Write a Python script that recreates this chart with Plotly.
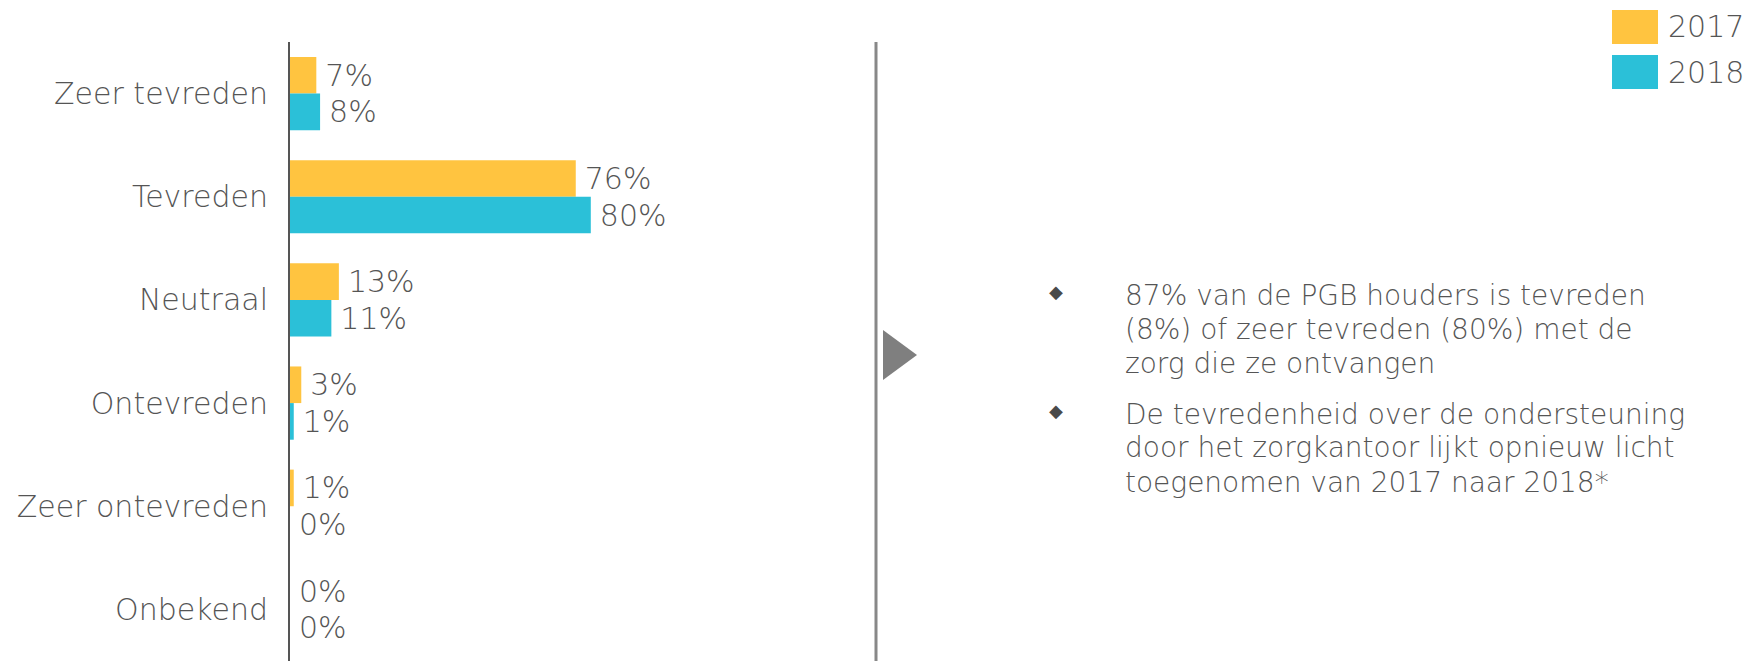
import plotly.graph_objects as go

# ---- data ----
categories = ["Zeer tevreden", "Tevreden", "Neutraal", "Ontevreden", "Zeer ontevreden", "Onbekend"]
years = ["2017", "2018"]
values_2017 = [7, 76, 13, 3, 1, 0]
values_2018 = [8, 80, 11, 1, 0, 0]
bullet_1 = ["87% van de PGB houders is tevreden",
            "(8%) of zeer tevreden (80%) met de",
            "zorg die ze ontvangen"]
bullet_2 = ["De tevredenheid over de ondersteuning",
            "door het zorgkantoor lijkt opnieuw licht",
            "toegenomen van 2017 naar 2018*"]

# ---- style ----
YELLOW = "#FFC440"
CYAN = "#2BC0D8"
TEXT = "#555555"
FONT = "'DejaVu Sans', sans-serif"
FW = 300
FS = 30
FS_NOTE = 28

W, H = 1747, 661
L, R, T, B = 290, 850, 42, 661          # plot area in pixels
PX_PER_PCT = 3.76


def px(x):
    return (x - L) / (R - L)


def py(y):
    return (B - y) / (B - T)


fig = go.Figure()
for name, vals, col in [(years[0], values_2017, YELLOW), (years[1], values_2018, CYAN)]:
    fig.add_trace(go.Bar(
        name=name, y=categories, x=vals, orientation="h",
        marker=dict(color=col, line=dict(width=0)),
        texttemplate="\u2009%{x}%", textposition="outside",
        textfont=dict(size=FS, color=TEXT, family=FONT, weight=FW),
        cliponaxis=False, constraintext="none", showlegend=False,
    ))

shapes = []
annotations = []

# divider line and arrow
shapes.append(dict(type="line", xref="paper", yref="paper",
                   x0=px(876), x1=px(876), y0=py(42), y1=py(661),
                   line=dict(color="#888888", width=3)))
shapes.append(dict(type="path", xref="paper", yref="paper",
                   path=f"M {px(883)} {py(330)} L {px(917)} {py(355)} L {px(883)} {py(380)} Z",
                   fillcolor="#7F7F7F", line=dict(width=0)))

# legend (manual)
for i, (name, col) in enumerate([(years[0], YELLOW), (years[1], CYAN)]):
    y0 = 10 + i * 45
    shapes.append(dict(type="rect", xref="paper", yref="paper",
                       x0=px(1612), x1=px(1658), y0=py(y0), y1=py(y0 + 34),
                       fillcolor=col, line=dict(width=0)))
    annotations.append(dict(xref="paper", yref="paper", x=px(1666), y=py(y0 + 17),
                            text=name, showarrow=False, xanchor="left", yanchor="middle",
                            font=dict(size=FS, color=TEXT, family=FONT, weight=FW)))

# bullet text
for lines, y_start in [(bullet_1, 295), (bullet_2, 414)]:
    annotations.append(dict(xref="paper", yref="paper", x=px(1056), y=py(y_start - 4),
                            text="\u25C6", showarrow=False, xanchor="center", yanchor="middle",
                            font=dict(size=18, color="#4A4A4A", family="DejaVu Sans")))
    for j, line in enumerate(lines):
        annotations.append(dict(xref="paper", yref="paper", x=px(1123), y=py(y_start + j * 34),
                                text=line, showarrow=False, xanchor="left", yanchor="middle",
                                font=dict(size=FS_NOTE, color=TEXT, family=FONT, weight=FW)))

fig.update_layout(
    width=W, height=H,
    margin=dict(l=L, r=W - R, t=T, b=H - B, pad=0),
    paper_bgcolor="white", plot_bgcolor="white",
    barmode="group", bargap=0.29, bargroupgap=0,
    font=dict(family=FONT, color=TEXT, size=FS),
    xaxis=dict(range=[0, (R - L) / PX_PER_PCT], visible=False, fixedrange=True),
    yaxis=dict(type="category", autorange="reversed", showline=True, linecolor="#555555",
               linewidth=2, showgrid=False, zeroline=False, ticks="",
               ticklabelstandoff=14, fixedrange=True,
               tickfont=dict(size=FS, color=TEXT, family=FONT, weight=FW)),
    shapes=shapes, annotations=annotations,
)

fig.write_html("out.html", config={"displayModeBar": False},
               post_script="document.body.style.margin='0';document.body.style.overflow='hidden';")
